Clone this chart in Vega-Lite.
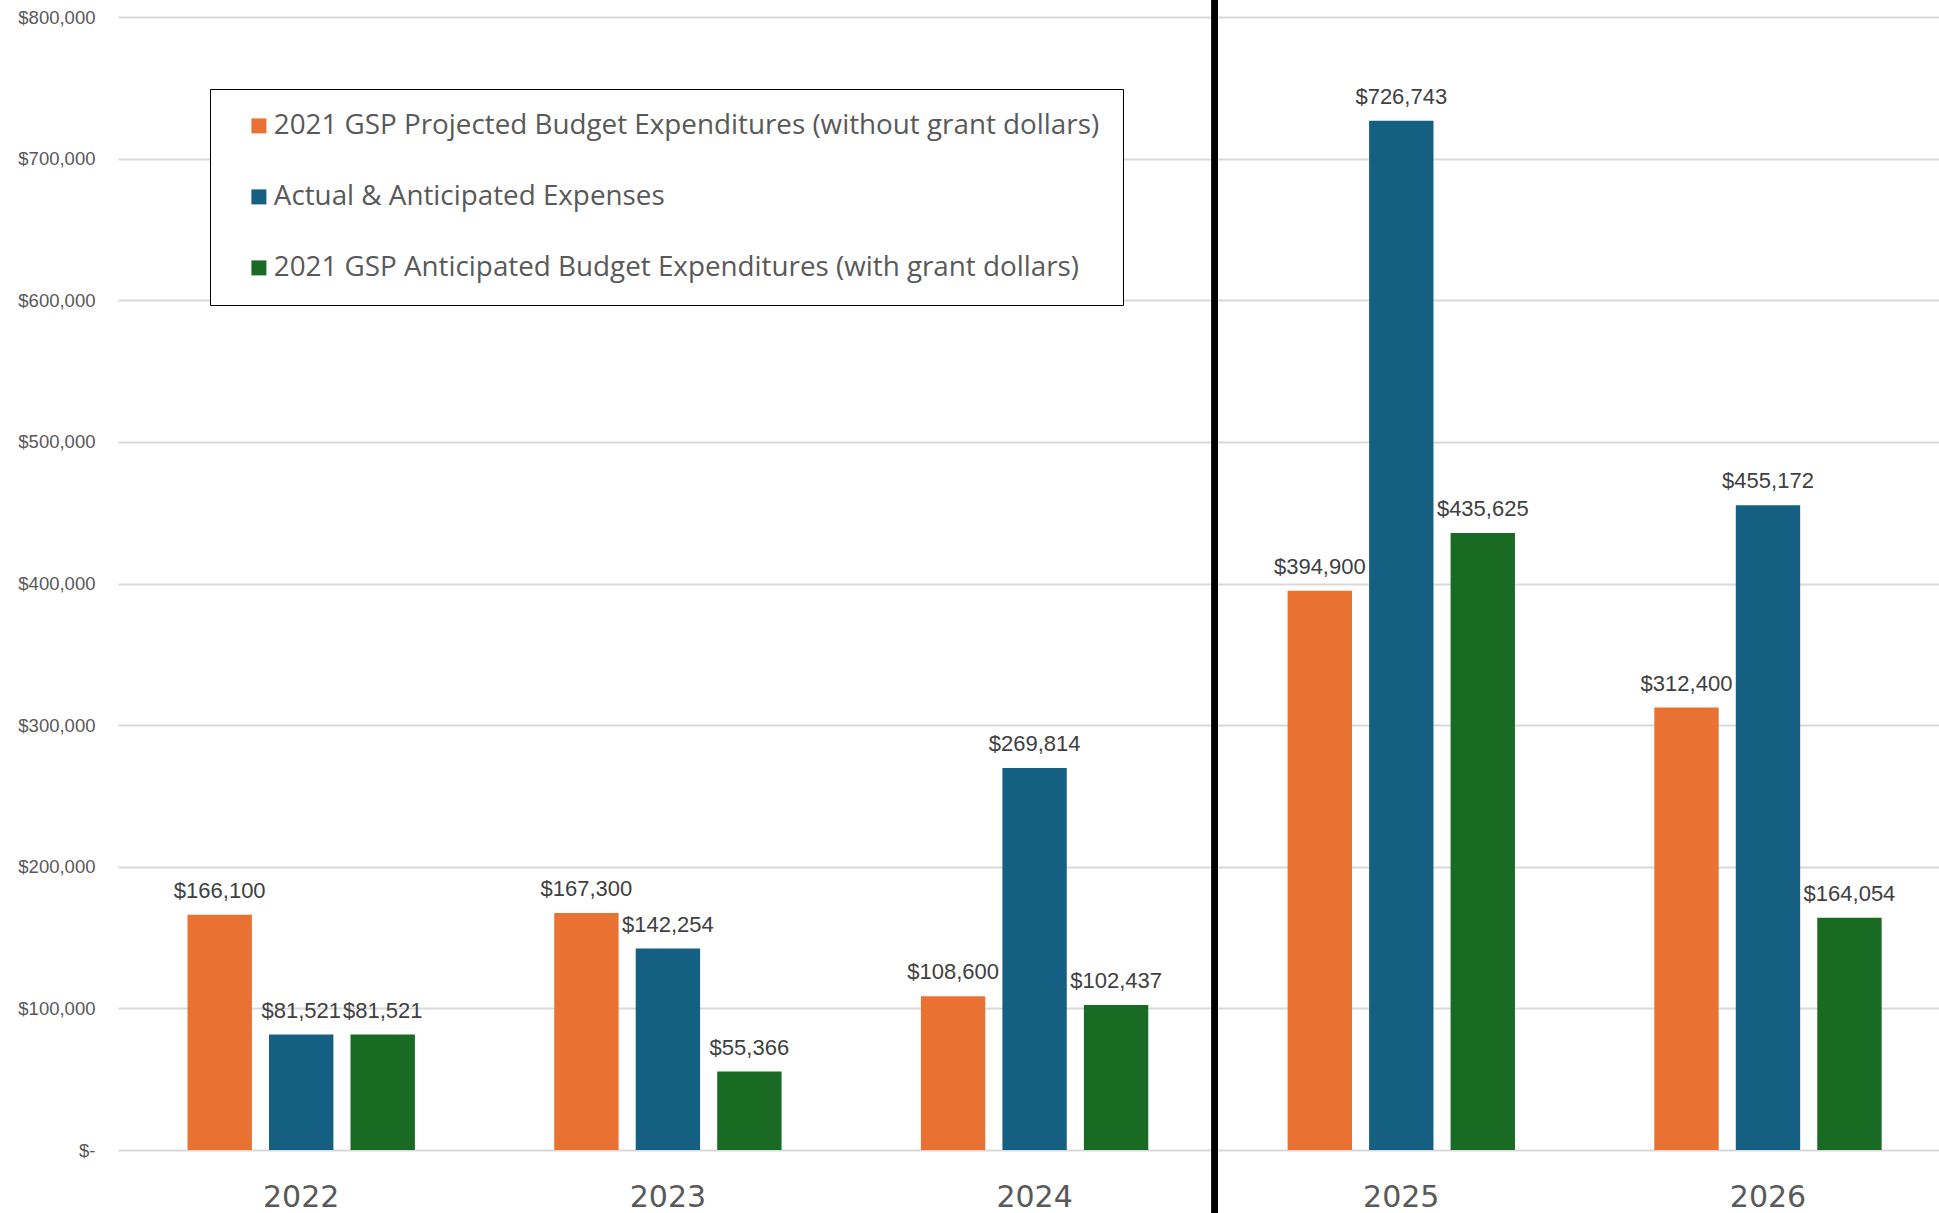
{
  "$schema": "https://vega.github.io/schema/vega-lite/v6.json",
  "autosize": {"type": "none"},
  "width": 1821,
  "height": 1133,
  "padding": {"left": 118, "top": 17, "right": 0, "bottom": 63},
  "background": "white",
  "config": {"view": {"stroke": null}},
  "data": {"values": [
    {"year": "2022", "series": "2021 GSP Projected Budget Expenditures (without grant dollars)", "value": 166100},
    {"year": "2022", "series": "Actual & Anticipated Expenses", "value": 81521},
    {"year": "2022", "series": "2021 GSP Anticipated Budget Expenditures (with grant dollars)", "value": 81521},
    {"year": "2023", "series": "2021 GSP Projected Budget Expenditures (without grant dollars)", "value": 167300},
    {"year": "2023", "series": "Actual & Anticipated Expenses", "value": 142254},
    {"year": "2023", "series": "2021 GSP Anticipated Budget Expenditures (with grant dollars)", "value": 55366},
    {"year": "2024", "series": "2021 GSP Projected Budget Expenditures (without grant dollars)", "value": 108600},
    {"year": "2024", "series": "Actual & Anticipated Expenses", "value": 269814},
    {"year": "2024", "series": "2021 GSP Anticipated Budget Expenditures (with grant dollars)", "value": 102437},
    {"year": "2025", "series": "2021 GSP Projected Budget Expenditures (without grant dollars)", "value": 394900},
    {"year": "2025", "series": "Actual & Anticipated Expenses", "value": 726743},
    {"year": "2025", "series": "2021 GSP Anticipated Budget Expenditures (with grant dollars)", "value": 435625},
    {"year": "2026", "series": "2021 GSP Projected Budget Expenditures (without grant dollars)", "value": 312400},
    {"year": "2026", "series": "Actual & Anticipated Expenses", "value": 455172},
    {"year": "2026", "series": "2021 GSP Anticipated Budget Expenditures (with grant dollars)", "value": 164054}
  ]},
  "encoding": {
    "x": {
      "field": "year", "type": "nominal",
      "scale": {"paddingInner": 0.38, "paddingOuter": 0.173, "align": 0.548},
      "axis": {
        "title": null, "labelAngle": 0, "labelFont": "DejaVu Sans", "labelFontSize": 30,
        "labelColor": "#595959", "labelPadding": 32, "domain": false, "ticks": false, "grid": false
      }
    }
  },
  "layer": [
    {
      "mark": {"type": "bar"},
      "encoding": {
        "xOffset": {
          "field": "series", "type": "nominal",
          "sort": ["2021 GSP Projected Budget Expenditures (without grant dollars)", "Actual & Anticipated Expenses", "2021 GSP Anticipated Budget Expenditures (with grant dollars)"],
          "scale": {"paddingInner": 0.21, "paddingOuter": 0}
        },
        "y": {
          "field": "value", "type": "quantitative",
          "scale": {"domain": [0, 800000], "nice": false},
          "axis": {
            "title": null, "values": [0, 100000, 200000, 300000, 400000, 500000, 600000, 700000, 800000],
            "labelExpr": "datum.value == 0 ? '$-' : format(datum.value, '$,')",
            "labelFont": "Liberation Sans", "labelFontSize": 18.5, "labelColor": "#595959",
            "labelPadding": 23, "domain": false, "ticks": false,
            "gridColor": "#D9D9D9", "gridWidth": 2
          }
        },
        "color": {
          "field": "series", "type": "nominal",
          "scale": {
            "domain": ["2021 GSP Projected Budget Expenditures (without grant dollars)", "Actual & Anticipated Expenses", "2021 GSP Anticipated Budget Expenditures (with grant dollars)"],
            "range": ["#E97132", "#156082", "#196B24"]
          },
          "legend": {
            "title": null, "orient": "none", "legendX": 92, "legendY": 72,
            "strokeColor": "black", "fillColor": "white", "padding": 23,
            "symbolType": "square", "symbolSize": 225, "symbolStrokeWidth": 0, "symbolOffset": 12,
            "labelFont": "Open Sans", "labelFontSize": 27.8, "labelColor": "#595959",
            "labelLimit": 2000, "rowPadding": 42, "labelOffset": 1
          }
        }
      }
    },
    {
      "mark": {"type": "text", "baseline": "bottom", "dy": -12, "font": "Liberation Sans", "fontSize": 22, "color": "#404040"},
      "encoding": {
        "xOffset": {
          "field": "series", "type": "nominal",
          "sort": ["2021 GSP Projected Budget Expenditures (without grant dollars)", "Actual & Anticipated Expenses", "2021 GSP Anticipated Budget Expenditures (with grant dollars)"]
        },
        "y": {"field": "value", "type": "quantitative"},
        "text": {"field": "value", "type": "quantitative", "format": "$,.0f"}
      }
    },
    {
      "mark": {"type": "rule", "color": "black", "strokeWidth": 6, "clip": false},
      "encoding": {
        "x": {"datum": "2024", "type": "nominal", "bandPosition": 1.293},
        "y": {"datum": 812000, "type": "quantitative"},
        "y2": {"datum": -45000}
      }
    }
  ]
}
